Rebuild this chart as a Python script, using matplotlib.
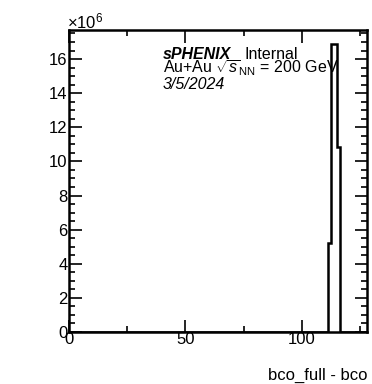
import numpy as np
import matplotlib
matplotlib.use("Agg")
import matplotlib.pyplot as plt
from matplotlib.ticker import MultipleLocator, FuncFormatter

plt.rcParams['font.family'] = ['Liberation Sans', 'DejaVu Sans']
plt.rcParams['mathtext.fontset'] = 'custom'
plt.rcParams['mathtext.rm'] = 'Liberation Sans'
plt.rcParams['mathtext.it'] = 'Liberation Sans:italic'

# histogram: 100 bins on [0, 128], only a few filled
bin_edges = np.linspace(0, 128, 101)
filled_bins = [87, 88, 89, 90]
filled_counts = [5.2e6, 16.86e6, 16.86e6, 10.85e6]

counts = np.zeros(100)
for b, c in zip(filled_bins, filled_counts):
    counts[b] = c

fig = plt.figure(figsize=(3.72, 3.84), dpi=100)
ax = fig.add_axes([69 / 372, 1 - 332 / 384, (367 - 69) / 372, (332 - 30) / 384])

ax.stairs(counts, bin_edges, color='black', linewidth=1.8)

ax.set_xlim(0, 128)
ax.set_ylim(0, 1.05 * max(filled_counts))

ax.xaxis.set_major_locator(MultipleLocator(50))
ax.xaxis.set_minor_locator(MultipleLocator(25))
ax.yaxis.set_major_locator(MultipleLocator(2e6))
ax.yaxis.set_minor_locator(MultipleLocator(0.5e6))
ax.yaxis.set_major_formatter(FuncFormatter(lambda v, p: '%d' % round(v / 1e6)))

ax.tick_params(which='both', direction='in', top=True, right=True, labelsize=12, width=1.2)
ax.tick_params(which='major', length=9)
ax.tick_params(which='minor', length=4.5)
ax.tick_params(axis='x', pad=0)
ax.tick_params(axis='y', pad=1)
for s in ax.spines.values():
    s.set_linewidth(1.8)

fig.text(67 / 372, 1 - 28 / 384, r'$\times$10$^{6}$', fontsize=12, ha='left', va='baseline')

fig.text(367 / 372, 1 - 380 / 384, 'bco_full - bco', fontsize=12, ha='right', va='baseline')

fig.text(163 / 372, 1 - 59 / 384, 'sPHENIX', fontsize=11.5, fontweight='bold', fontstyle='italic', va='baseline')
fig.text(244 / 372, 1 - 59 / 384, 'Internal', fontsize=11.5, va='baseline')
fig.text(163 / 372, 1 - 73 / 384, r'Au+Au $\sqrt{s}_{\rm NN}$ = 200 GeV', fontsize=11.5, va='baseline')
fig.text(163 / 372, 1 - 89 / 384, '3/5/2024', fontsize=11.5, fontstyle='italic', va='baseline')

fig.savefig('out.png', dpi=100)
